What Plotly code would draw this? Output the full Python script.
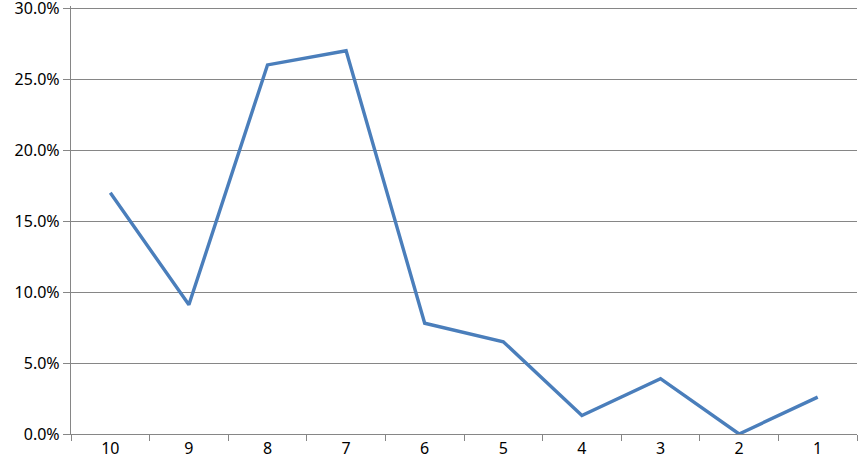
import plotly.graph_objects as go

categories = ["10", "9", "8", "7", "6", "5", "4", "3", "2", "1"]
values = [0.170, 0.091, 0.260, 0.270, 0.078, 0.065, 0.013, 0.039, 0.0, 0.026]
y_ticks = [0, 0.05, 0.10, 0.15, 0.20, 0.25, 0.30]

fig = go.Figure(go.Scatter(
    x=categories, y=values, mode="lines",
    line=dict(color="#4a7ebb", width=3.4),
    cliponaxis=False,
))

fig.update_layout(
    width=859, height=468,
    margin=dict(l=71, r=2, t=6, b=34),
    paper_bgcolor="white", plot_bgcolor="white",
    showlegend=False,
    font=dict(family="Noto Sans, Liberation Sans, sans-serif", size=16, color="black"),
)
fig.update_xaxes(
    type="category", tickson="boundaries", ticks="outside", ticklen=6,
    tickcolor="#868686", tickwidth=1.3,
    showline=True, linecolor="#868686", linewidth=1.3,
    showgrid=False, range=[-0.5, 9.5], automargin=False,
)
fig.update_yaxes(
    range=[0, 0.3015], tickvals=y_ticks, tickformat=".1%",
    ticks="outside", ticklen=7, tickcolor="#868686", tickwidth=1.3,
    showline=True, linecolor="#868686", linewidth=1.3,
    showgrid=True, gridcolor="#868686", gridwidth=1.3,
    zeroline=False, automargin=False, ticklabeloverflow="allow",
)

fig.write_html(
    "out.html",
    config={"displayModeBar": False},
    post_script="document.body.style.margin='0';document.body.style.overflow='hidden';",
)
